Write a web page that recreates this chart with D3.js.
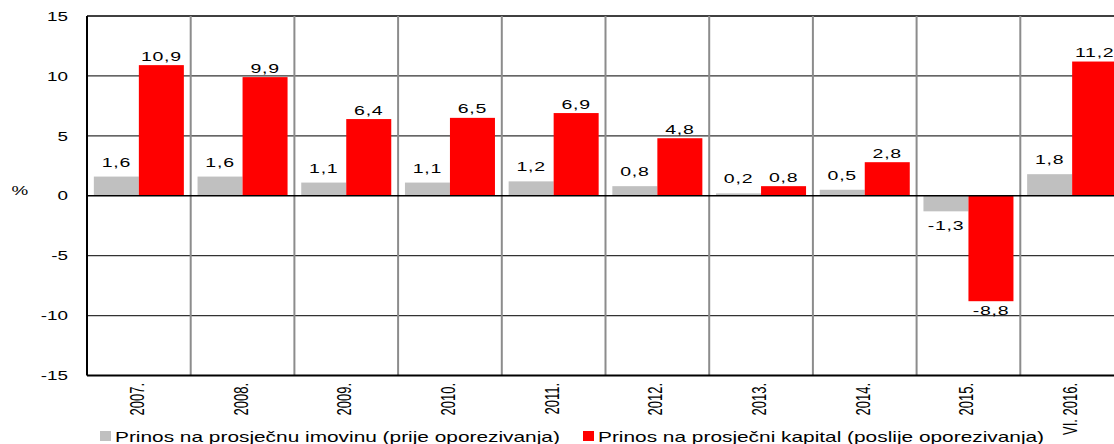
<!DOCTYPE html>
<html>
<head>
<meta charset="utf-8">
<script src="https://cdn.jsdelivr.net/npm/d3@7"></script>
<style>
  html, body { margin: 0; padding: 0; background: #fff; overflow: hidden; }
  text { font-family: "Liberation Sans", Arial, sans-serif; fill: #000; }
</style>
</head>
<body>
<svg id="chart" width="1114" height="444"></svg>
<script>
const categories = ["2007.", "2008.", "2009.", "2010.", "2011.", "2012.", "2013.", "2014.", "2015.", "VI. 2016."];
const seriesNames = ["Prinos na prosječnu imovinu (prije oporezivanja)", "Prinos na prosječni kapital (poslije oporezivanja)"];
const roaValues = [1.6, 1.6, 1.1, 1.1, 1.2, 0.8, 0.2, 0.5, -1.3, 1.8];
const roeValues = [10.9, 9.9, 6.4, 6.5, 6.9, 4.8, 0.8, 2.8, -8.8, 11.2];
const yTicks = [-15, -10, -5, 0, 5, 10, 15];
const colors = ["#c0c0c0", "#ff0000"];

const svg = d3.select("#chart");
const plotLeft = 87, plotTop = 16, plotBottom = 375.5;
const catWidth = 103.7;
const SX = 1.5; // horizontal stretch of text in the reference

const y = d3.scaleLinear().domain([-15, 15]).range([plotBottom, plotTop]);
const x0 = d3.scaleBand().domain(categories).range([plotLeft, plotLeft + catWidth * categories.length]).paddingInner(0).paddingOuter(0);
const x1 = d3.scaleBand().domain([0, 1]).range([0, x0.bandwidth()]).paddingInner(0).paddingOuter(0.152);

const data = categories.map((c, i) => ({ cat: c, vals: [roaValues[i], roeValues[i]] }));

// horizontal gridlines
svg.append("g").selectAll("line").data(yTicks.filter(t => t !== 0 && t !== -15))
  .join("line")
  .attr("x1", plotLeft).attr("x2", 1114)
  .attr("y1", d => y(d)).attr("y2", d => y(d))
  .attr("stroke", d => d === 15 ? "#000" : "#333").attr("stroke-width", d => d === 15 ? 1.5 : 1.4);

// vertical separators
svg.append("g").selectAll("line").data(categories.slice(1))
  .join("line")
  .attr("x1", d => x0(d)).attr("x2", d => x0(d))
  .attr("y1", plotTop).attr("y2", plotBottom)
  .attr("stroke", "#8c8c8c").attr("stroke-width", 2);

// bars
const groups = svg.append("g").selectAll("g").data(data).join("g")
  .attr("transform", d => `translate(${x0(d.cat)},0)`);
groups.selectAll("rect").data(d => d.vals.map((v, k) => ({ v, k })))
  .join("rect")
  .attr("x", d => x1(d.k))
  .attr("width", x1.bandwidth())
  .attr("y", d => Math.min(y(d.v), y(0)))
  .attr("height", d => Math.abs(y(d.v) - y(0)))
  .attr("fill", d => colors[d.k]);

// zero line
svg.append("line").attr("x1", plotLeft).attr("x2", 1114).attr("y1", y(0)).attr("y2", y(0))
  .attr("stroke", "#000").attr("stroke-width", 1.5);
// axes frame
svg.append("line").attr("x1", plotLeft).attr("x2", plotLeft).attr("y1", plotTop).attr("y2", plotBottom)
  .attr("stroke", "#000").attr("stroke-width", 2);
svg.append("line").attr("x1", plotLeft).attr("x2", 1114).attr("y1", plotBottom).attr("y2", plotBottom)
  .attr("stroke", "#000").attr("stroke-width", 2.2);

// value labels
const gapAbove = [10, 4.5], gapBelow = [18.5, 13.5];
groups.selectAll("g.lbl").data(d => d.vals.map((v, k) => ({ v, k })))
  .join("g").attr("class", "lbl")
  .attr("transform", d => {
    const cx = x1(d.k) + x1.bandwidth() / 2;
    const cy = d.v >= 0 ? y(d.v) - gapAbove[d.k] : y(d.v) + gapBelow[d.k];
    return `translate(${cx},${cy}) scale(${SX},1)`;
  })
  .append("text")
  .attr("text-anchor", "middle")
  .attr("font-size", 13)
  .attr("letter-spacing", 0.5)
  .text(d => String(d.v).replace(".", ","));

// y tick labels
svg.append("g").selectAll("g").data(yTicks).join("g")
  .attr("transform", d => `translate(68,${y(d) + 4.7}) scale(1.45,1)`)
  .append("text").attr("text-anchor", "end").attr("font-size", 13)
  .text(d => String(d));

// % label
svg.append("g").attr("transform", `translate(20,${y(0) - 0.5}) scale(1.45,1)`)
  .append("text").attr("text-anchor", "middle").attr("font-size", 13).text("%");

// x category labels (rotated)
svg.append("g").selectAll("g").data(categories).join("g")
  .attr("transform", d => `translate(${x0(d) + x0.bandwidth() / 2 + 5},383) scale(${SX},1) rotate(-90)`)
  .append("text").attr("text-anchor", "end").attr("font-size", 13)
  .text(d => d);

// legend
const legendX = [100, 583];
const lg = svg.append("g").selectAll("g").data(seriesNames).join("g")
  .attr("transform", (d, i) => `translate(${legendX[i]},431)`);
lg.append("rect").attr("width", 11).attr("height", 10).attr("fill", (d, i) => colors[i]);
lg.append("g").attr("transform", `translate(15,10.5) scale(1.49,1)`)
  .append("text").attr("font-size", 14).text(d => d);
</script>
</body>
</html>
